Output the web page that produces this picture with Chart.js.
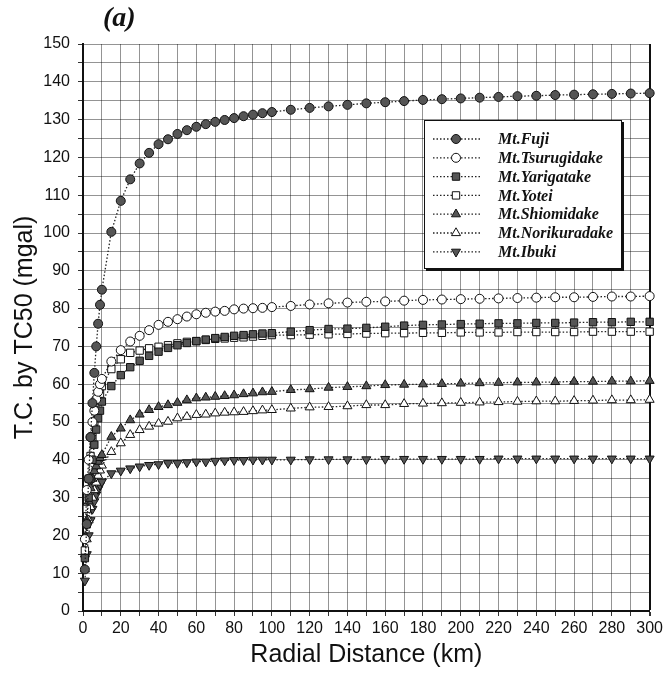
<!DOCTYPE html>
<html><head><meta charset="utf-8">
<script src="https://cdn.jsdelivr.net/npm/chart.js@4/dist/chart.umd.min.js"></script>
<style>html,body{margin:0;padding:0;background:#fff;}#wrap{width:666px;height:677px;}</style>
</head><body><div id="wrap"><canvas id="c" width="666" height="677"></canvas></div>
<script>
const distances = [1,2,3,4,5,6,7,8,9,10,15,20,25,30,35,40,45,50,55,60,65,70,75,80,85,90,95,100,110,120,130,140,150,160,170,180,190,200,210,220,230,240,250,260,270,280,290,300];
const fuji = [11,23,35,46,55,63,70,76,81,85,100.3,108.5,114.2,118.4,121.2,123.5,124.8,126.2,127.2,128.1,128.8,129.4,129.9,130.4,130.9,131.3,131.7,132.0,132.6,133.1,133.5,133.9,134.3,134.6,134.9,135.2,135.4,135.6,135.8,136.0,136.2,136.3,136.5,136.6,136.7,136.8,136.9,137.0];
const tsurugidake = [19,32,40,46,50,53,56,58,60,61.4,66.0,69.0,71.3,72.8,74.3,75.7,76.5,77.2,77.9,78.5,78.9,79.2,79.4,79.8,80.0,80.1,80.2,80.4,80.7,81.1,81.4,81.6,81.8,81.9,82.1,82.3,82.4,82.5,82.6,82.7,82.8,82.9,83.0,83.0,83.1,83.2,83.2,83.3];
const yarigatake = [14,23,30,35,40,44,48,51,53,55.4,59.5,62.4,64.5,66.2,67.5,68.6,69.6,70.3,70.9,71.4,71.8,72.2,72.5,72.8,73.0,73.2,73.4,73.5,73.9,74.3,74.6,74.7,74.9,75.2,75.5,75.7,75.8,75.9,76.0,76.1,76.1,76.2,76.2,76.3,76.4,76.4,76.5,76.5];
const yotei = [16,27,35,41,46,50,53,55.5,57.5,59.5,64.0,66.6,68.3,68.9,69.5,69.9,70.3,70.8,71.2,71.4,71.7,72.0,72.1,72.3,72.4,72.6,72.8,73.0,73.0,73.1,73.2,73.3,73.4,73.5,73.5,73.6,73.6,73.7,73.7,73.7,73.8,73.8,73.8,73.8,73.9,73.9,73.9,73.9];
const shiomidake = [15,24,29,32.5,35,37,38.3,39.5,40.5,41.3,46.1,48.3,50.5,52.0,53.2,54.0,54.5,55.1,55.8,56.3,56.5,56.7,56.9,57.1,57.4,57.6,57.9,58.0,58.5,58.7,59.1,59.3,59.5,59.8,59.9,60.0,60.1,60.2,60.3,60.4,60.5,60.5,60.6,60.7,60.7,60.8,60.8,60.9];
const norikuradake = [11,19,24,27.5,30,32,34,35.8,37.2,38.5,42.1,44.4,46.6,47.9,48.8,49.6,50.1,51.0,51.4,51.9,52.0,52.3,52.5,52.6,52.7,52.9,53.1,53.2,53.6,53.9,54.0,54.2,54.5,54.5,54.8,54.9,55.0,55.1,55.2,55.3,55.4,55.5,55.5,55.6,55.7,55.8,55.8,55.9];
const ibuki = [8,15,20,24,27,29,30.8,32.2,33.3,34.2,36.4,37.1,37.7,38.2,38.6,38.8,39.1,39.1,39.3,39.5,39.5,39.7,39.8,39.9,39.9,40.0,40.0,40.0,40.0,40.1,40.1,40.1,40.1,40.2,40.2,40.2,40.2,40.2,40.2,40.3,40.3,40.3,40.3,40.3,40.3,40.3,40.3,40.3];
const seriesNames = ['Mt.Fuji','Mt.Tsurugidake','Mt.Yarigatake','Mt.Yotei','Mt.Shiomidake','Mt.Norikuradake','Mt.Ibuki'];
const xTickLabels = [0,20,40,60,80,100,120,140,160,180,200,220,240,260,280,300];
const yTickLabels = [0,10,20,30,40,50,60,70,80,90,100,110,120,130,140,150];

const FILL = '#555';
const styles = [
  {shape:'circle', fill:FILL, r:4.5, rot:0},
  {shape:'circle', fill:'#fff', r:4.5, rot:0},
  {shape:'rect', fill:FILL, r:5.2, rot:0},
  {shape:'rect', fill:'#fff', r:5.2, rot:0},
  {shape:'triangle', fill:FILL, r:5.2, rot:0},
  {shape:'triangle', fill:'#fff', r:5.2, rot:0},
  {shape:'triangle', fill:FILL, r:5.2, rot:180}
];
const allSeries = [fuji, tsurugidake, yarigatake, yotei, shiomidake, norikuradake, ibuki];

const datasets = allSeries.map((vals, i) => ({
  label: seriesNames[i],
  data: distances.map((d, j) => ({x: d, y: vals[j]})),
  borderColor: '#222',
  borderWidth: 1.3,
  borderDash: [1.5, 2],
  pointStyle: styles[i].shape,
  pointRotation: styles[i].rot,
  pointRadius: styles[i].r,
  pointBackgroundColor: styles[i].fill,
  pointBorderColor: '#111',
  pointBorderWidth: 1,
  tension: 0,
  clip: false,
  fill: false
}));

function drawMarker(ctx, st, x, y) {
  ctx.save();
  ctx.fillStyle = st.fill; ctx.strokeStyle = '#111'; ctx.lineWidth = 1;
  ctx.beginPath();
  const r = st.r;
  if (st.shape === 'circle') ctx.arc(x, y, r, 0, Math.PI*2);
  else if (st.shape === 'rect') { const s = r*Math.SQRT1_2; ctx.rect(x-s, y-s, 2*s, 2*s); }
  else {
    let rad = st.rot*Math.PI/180;
    ctx.moveTo(x + Math.sin(rad)*r, y - Math.cos(rad)*r);
    rad += 2*Math.PI/3; ctx.lineTo(x + Math.sin(rad)*r, y - Math.cos(rad)*r);
    rad += 2*Math.PI/3; ctx.lineTo(x + Math.sin(rad)*r, y - Math.cos(rad)*r);
    ctx.closePath();
  }
  ctx.fill(); ctx.stroke();
  ctx.restore();
}

const decor = {
  id: 'decor',
  afterDraw(chart) {
    const ctx = chart.ctx;
    ctx.save();
    ctx.fillStyle = '#111';
    ctx.font = 'italic bold 28px "Liberation Serif"';
    ctx.textBaseline = 'alphabetic';
    ctx.textAlign = 'left';
    ctx.fillText('(a)', 103, 26);
    const bx = 424, by = 120, bw = 198, bh = 149;
    ctx.fillStyle = '#111';
    ctx.fillRect(bx + 2, by + 2, bw, bh);
    ctx.fillStyle = '#fff';
    ctx.fillRect(bx, by, bw, bh);
    ctx.strokeStyle = '#111'; ctx.lineWidth = 1;
    ctx.strokeRect(bx + 0.5, by + 0.5, bw - 1, bh - 1);
    ctx.font = 'italic bold 16px "Liberation Serif"';
    ctx.textBaseline = 'middle';
    for (let i = 0; i < seriesNames.length; i++) {
      const y = 139 + i * 18.8;
      ctx.save();
      ctx.strokeStyle = '#222'; ctx.lineWidth = 1.3; ctx.setLineDash([1.5, 2]);
      ctx.beginPath(); ctx.moveTo(433, y); ctx.lineTo(480, y); ctx.stroke();
      ctx.restore();
      drawMarker(ctx, styles[i], 456, y);
      ctx.fillStyle = '#111';
      ctx.fillText(seriesNames[i], 498, y + 1);
    }
    ctx.restore();
  }
};

new Chart(document.getElementById('c'), {
  type: 'line',
  data: { datasets },
  options: {
    responsive: false,
    animation: false,
    devicePixelRatio: 1,
    layout: { padding: { left: 0, top: 44, right: 16, bottom: 0 } },
    plugins: { legend: { display: false }, title: { display: false }, tooltip: { enabled: false } },
    scales: {
      x: {
        type: 'linear', min: 0, max: 300,
        afterFit(s) { s.height = 66; },
        ticks: {
          stepSize: 10, autoSkip: false, maxRotation: 0, padding: 3,
          color: '#111', font: { family: '"Liberation Sans", Arial, sans-serif', size: 16 },
          callback: v => xTickLabels.includes(v) ? String(v) : ''
        },
        grid: {
          color: c => (c.tick && c.tick.value === 300) ? '#111' : 'rgba(0,0,0,0.42)',
          lineWidth: c => (c.tick && c.tick.value === 300) ? 2 : 1,
          tickLength: 5, tickColor: '#333'
        },
        border: { display: true, color: '#111', width: 2 },
        title: { display: true, text: 'Radial Distance (km)', color: '#111',
          font: { family: '"Liberation Sans", Arial, sans-serif', size: 25 }, padding: { top: 0, bottom: 7 } }
      },
      y: {
        type: 'linear', min: 0, max: 150,
        afterFit(s) { s.width = 83; },
        ticks: {
          stepSize: 5, autoSkip: false, padding: 8,
          color: '#111', font: { family: '"Liberation Sans", Arial, sans-serif', size: 16 },
          callback: v => yTickLabels.includes(v) ? String(v) : ''
        },
        grid: { color: 'rgba(0,0,0,0.42)', lineWidth: 1, tickLength: 5, tickColor: '#333' },
        border: { display: true, color: '#111', width: 2 },
        title: { display: true, text: 'T.C. by TC50 (mgal)', color: '#111',
          font: { family: '"Liberation Sans", Arial, sans-serif', size: 25 }, padding: { top: 10, bottom: 0 } }
      }
    }
  },
  plugins: [decor]
});
</script></body></html>
